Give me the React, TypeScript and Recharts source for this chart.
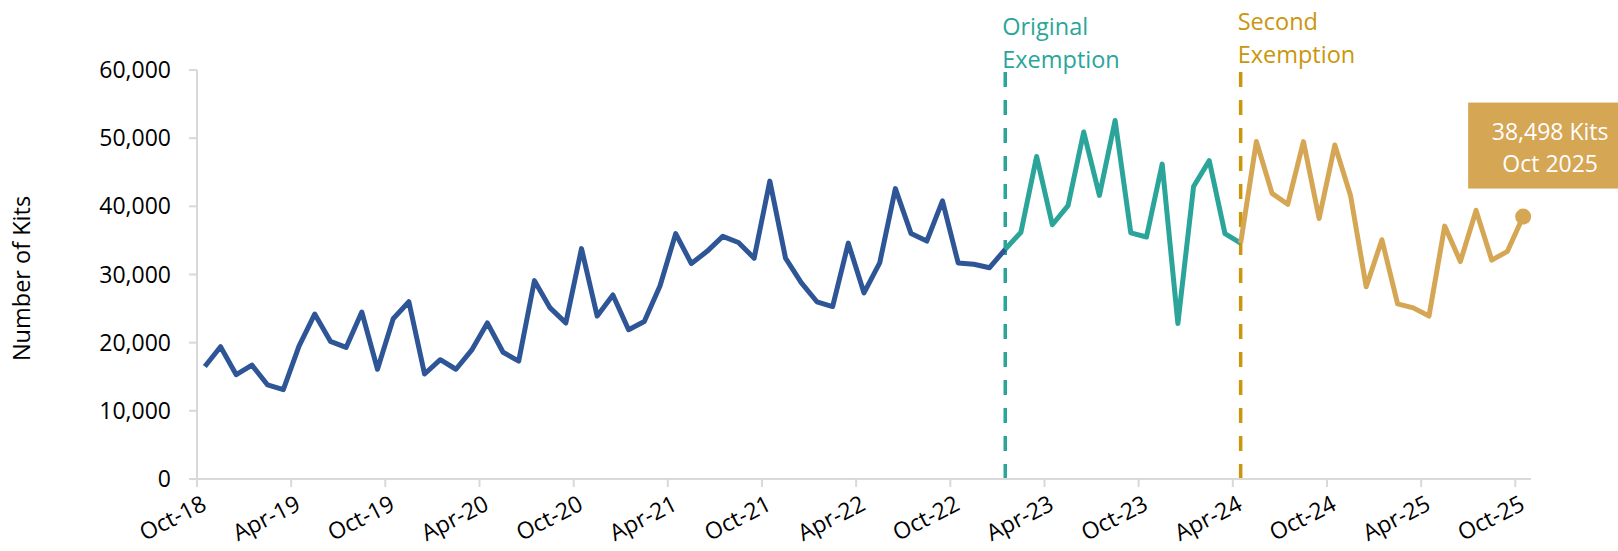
import React from "react";
import {
  LineChart, Line, XAxis, YAxis, ReferenceLine, ReferenceDot,
} from "recharts";

const months = [
  "Oct-18", "Nov-18", "Dec-18",
  "Jan-19", "Feb-19", "Mar-19", "Apr-19", "May-19", "Jun-19", "Jul-19", "Aug-19", "Sep-19", "Oct-19", "Nov-19", "Dec-19",
  "Jan-20", "Feb-20", "Mar-20", "Apr-20", "May-20", "Jun-20", "Jul-20", "Aug-20", "Sep-20", "Oct-20", "Nov-20", "Dec-20",
  "Jan-21", "Feb-21", "Mar-21", "Apr-21", "May-21", "Jun-21", "Jul-21", "Aug-21", "Sep-21", "Oct-21", "Nov-21", "Dec-21",
  "Jan-22", "Feb-22", "Mar-22", "Apr-22", "May-22", "Jun-22", "Jul-22", "Aug-22", "Sep-22", "Oct-22", "Nov-22", "Dec-22",
  "Jan-23", "Feb-23", "Mar-23", "Apr-23", "May-23", "Jun-23", "Jul-23", "Aug-23", "Sep-23", "Oct-23", "Nov-23", "Dec-23",
  "Jan-24", "Feb-24", "Mar-24", "Apr-24", "May-24", "Jun-24", "Jul-24", "Aug-24", "Sep-24", "Oct-24", "Nov-24", "Dec-24",
  "Jan-25", "Feb-25", "Mar-25", "Apr-25", "May-25", "Jun-25", "Jul-25", "Aug-25", "Sep-25", "Oct-25",
];

// Oct-18 .. Dec-22
const preKits = [
  16500, 19400, 15300, 16700, 13800, 13100, 19500, 24200, 20200, 19300, 24500, 16100,
  23500, 26000, 15400, 17500, 16100, 18900, 22900, 18600, 17300, 29100, 25100, 22900,
  33800, 23900, 27000, 21900, 23100, 28300, 36000, 31600, 33400, 35600, 34700, 32400,
  43700, 32400, 28800, 26000, 25300, 34600, 27300, 31700, 42600, 36000, 34900, 40800,
  31700, 31500, 31000,
];
// Jan-23 .. Mar-24
const originalKits = [
  33700, 36200, 47300, 37300, 40100, 50900, 41600, 52600, 36100, 35500, 46200, 22800,
  42900, 46700, 36000,
];
// Apr-24 .. Oct-25
const secondKits = [
  34600, 49500, 41900, 40300, 49500, 38200, 49000, 41600, 28200, 35100, 25700, 25100,
  23900, 37100, 31900, 39400, 32100, 33400, 38498,
];

const yTicks = [0, 10000, 20000, 30000, 40000, 50000, 60000];

const BLUE = "#2E5596";
const TEAL = "#2BA59A";
const GOLD = "#D5A654";
const GOLD_DARK = "#C9960C";
const AXIS = "#D9D9D9";
const FONT = "'Open Sans', 'Noto Sans', sans-serif";

const allKits = [...preKits, ...originalKits, ...secondKits];
const originalStart = preKits.length;
const secondStart = preKits.length + originalKits.length;
const lastIndex = allKits.length - 1;

const data = months.map((month, i) => ({
  month,
  pre: i <= originalStart ? allKits[i] : null,
  original: i >= originalStart && i <= secondStart ? allKits[i] : null,
  second: i >= secondStart ? allKits[i] : null,
}));

const W = 1618;
const H = 551;
const HALF_BAND = 7.85;

function MonthTick(props: any) {
  const { x, y, payload } = props;
  return (
    <g>
      <line x1={x - HALF_BAND} y1={y} x2={x - HALF_BAND} y2={y + 8} stroke={AXIS} strokeWidth={2} />
      <text
        x={0}
        y={0}
        transform={`translate(${x + 3},${y + 30}) rotate(-27)`}
        textAnchor="end"
        fontSize={23}
        fontFamily={FONT}
        fill="#000"
      >
        {payload.value}
      </text>
    </g>
  );
}

function exemptionLabel(lines: string[], color: string, baselines: number[]) {
  return (props: any) => {
    const vb = props.viewBox || {};
    return (
      <g>
        {lines.map((t, k) => (
          <text key={t} x={vb.x - 3} y={baselines[k]} fontSize={23.5} fontFamily={FONT} fill={color}>
            {t}
          </text>
        ))}
      </g>
    );
  };
}

function LastValueCallout(props: any) {
  const { cx, cy } = props;
  return (
    <g>
      <rect x={cx - 55} y={cy - 114} width={170} height={86} fill={GOLD} />
      <text x={cx + 27} y={cy - 77} textAnchor="middle" fontSize={23} fontFamily={FONT} fill="#fff">
        38,498 Kits
      </text>
      <text x={cx + 27} y={cy - 45} textAnchor="middle" fontSize={23} fontFamily={FONT} fill="#fff">
        Oct 2025
      </text>
      <circle cx={cx} cy={cy} r={8} fill={GOLD} />
    </g>
  );
}

export default function App() {
  return (
    <div style={{ position: "absolute", left: 0, top: 0, width: W, height: H, background: "#fff" }}>
      <LineChart width={W} height={H} data={data} margin={{ top: 70, right: 87, left: 97, bottom: 12 }}>
        <XAxis
          dataKey="month"
          interval={5}
          padding={{ left: HALF_BAND, right: HALF_BAND }}
          tickLine={false}
          tickSize={0}
          tickMargin={0}
          height={60}
          axisLine={{ stroke: AXIS, strokeWidth: 2 }}
          tick={<MonthTick />}
        />
        <YAxis
          width={100}
          domain={[0, 60000]}
          ticks={yTicks}
          interval={0}
          tickFormatter={(v: number) => v.toLocaleString("en-US")}
          tickSize={8}
          tickMargin={18}
          tickLine={{ stroke: AXIS, strokeWidth: 2 }}
          axisLine={{ stroke: AXIS, strokeWidth: 2 }}
          tick={{ fill: "#000", fontSize: 23, fontFamily: FONT }}
          label={(p: any) => {
            const vb = p.viewBox || {};
            const cy = vb.y + vb.height / 2 + 4;
            return (
              <text
                x={0}
                y={0}
                transform={`translate(30,${cy}) rotate(-90)`}
                textAnchor="middle"
                fontSize={23.5}
                fontFamily={FONT}
                fill="#000"
              >
                Number of Kits
              </text>
            );
          }}
        />
        <ReferenceLine
          x={months[originalStart]}
          stroke={TEAL}
          strokeWidth={3.5}
          strokeDasharray="15 13"
          label={exemptionLabel(["Original", "Exemption"], TEAL, [35, 68])}
        />
        <ReferenceLine
          x={months[secondStart]}
          stroke={GOLD_DARK}
          strokeWidth={3.5}
          strokeDasharray="15 13"
          label={exemptionLabel(["Second", "Exemption"], GOLD_DARK, [30, 63])}
        />
        <Line
          type="linear"
          dataKey="pre"
          stroke={BLUE}
          strokeWidth={5}
          strokeLinejoin="round"
          dot={false}
          activeDot={false}
          isAnimationActive={false}
        />
        <Line
          type="linear"
          dataKey="original"
          stroke={TEAL}
          strokeWidth={5}
          strokeLinejoin="round"
          dot={false}
          activeDot={false}
          isAnimationActive={false}
        />
        <Line
          type="linear"
          dataKey="second"
          stroke={GOLD}
          strokeWidth={5}
          strokeLinejoin="round"
          dot={false}
          activeDot={false}
          isAnimationActive={false}
        />
        <ReferenceDot
          x={months[lastIndex]}
          y={allKits[lastIndex]}
          r={8}
          shape={<LastValueCallout />}
        />
      </LineChart>
    </div>
  );
}
